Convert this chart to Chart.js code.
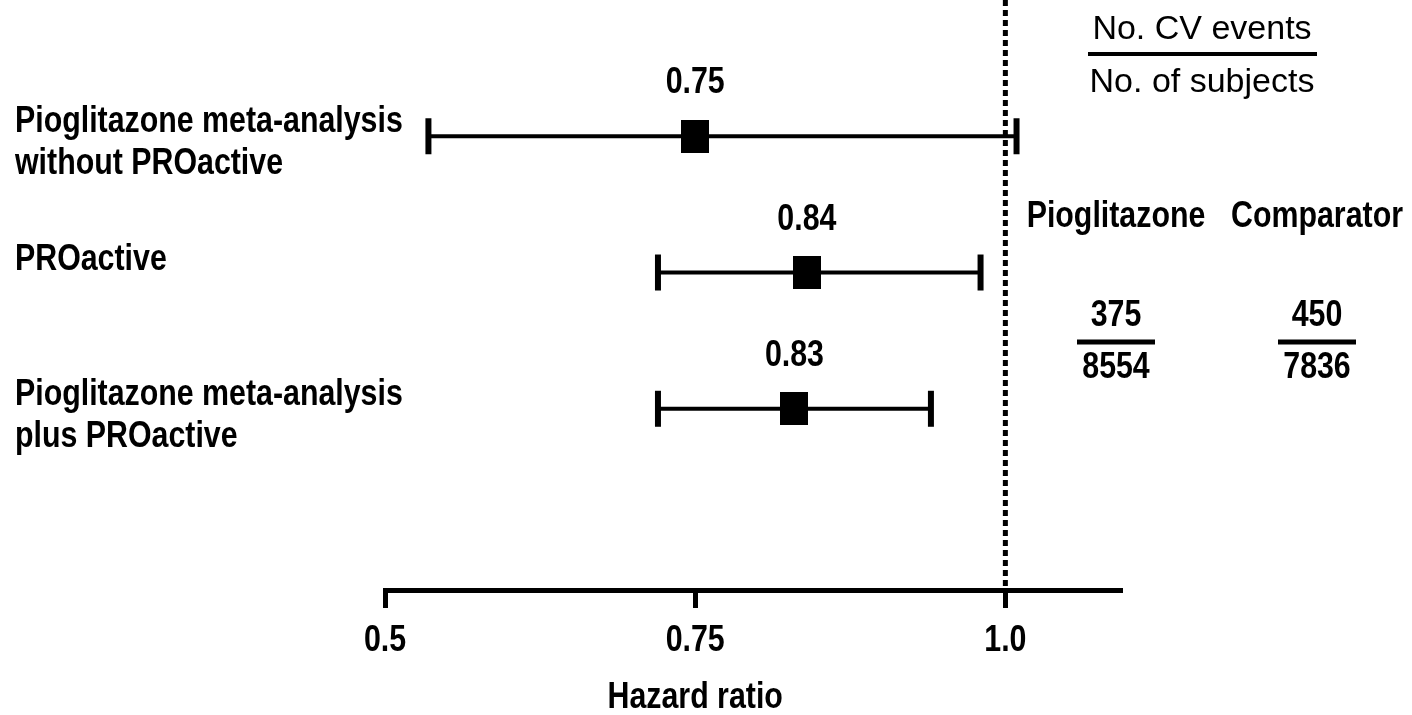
<!DOCTYPE html>
<html>
<head>
<meta charset="utf-8">
<title>Hazard ratio – pioglitazone</title>
<script src="https://cdn.jsdelivr.net/npm/chart.js@4.4.1/dist/chart.umd.min.js"></script>
<style>
  html, body { margin: 0; padding: 0; background: #fff; }
  canvas { display: block; }
</style>
</head>
<body>
<canvas id="forest" width="1412" height="715"></canvas>
<script>
// study rows, top to bottom
const studies = [
    ['Pioglitazone meta-analysis', 'without PROactive'],
    ['PROactive'],
    ['Pioglitazone meta-analysis', 'plus PROactive']
];
const hazardRatio = [0.75, 0.84, 0.83];
const ciLow = [0.535, 0.72, 0.72];
const ciHigh = [1.009, 0.98, 0.94];

const xTicks = [0.5, 0.75, 1.0];
const xTickLabels = ['0.5', '0.75', '1.0'];

// events / subjects per arm
const arms = ['Pioglitazone', 'Comparator'];
const cvEvents = [375, 450];
const subjects = [8554, 7836];

const boldFont = 'bold 37px "Liberation Sans", Arial, sans-serif';
const plainFont = '34px "Liberation Sans", Arial, sans-serif';
const squeeze = 0.82; // narrow look for the bold labels

// filled box used as the point estimate marker
const box = document.createElement('canvas');
box.width = 28;
box.height = 33;
const bctx = box.getContext('2d');
bctx.fillStyle = '#000';
bctx.fillRect(0, 0, 28, 33);

const rowNums = studies.map((s, i) => i + 1);

const datasets = [];
datasets.push({
    label: 'HR',
    data: hazardRatio.map((v, i) => ({ x: v, y: rowNums[i] })),
    pointStyle: box,
    pointRadius: 16,
    showLine: false
});
studies.forEach((s, i) => {
    datasets.push({
        label: 'CI ' + (i + 1),
        data: [{ x: ciLow[i], y: rowNums[i] }, { x: ciHigh[i], y: rowNums[i] }],
        showLine: true,
        borderColor: '#000',
        borderWidth: 4,
        pointStyle: 'line',
        pointRotation: 90,
        pointRadius: 18,
        pointBorderWidth: 6,
        pointBorderColor: '#000'
    });
});
// line of no effect
datasets.push({
    label: 'ref',
    data: [{ x: 1.0, y: 0 }, { x: 1.0, y: 4.33 }],
    showLine: true,
    borderColor: '#000',
    borderWidth: 5,
    borderDash: [6, 4],
    pointRadius: 0
});

function narrowText(ctx, text, x, y, align) {
    ctx.save();
    ctx.translate(x, y);
    ctx.scale(squeeze, 1);
    ctx.textAlign = align;
    ctx.fillText(text, 0, 0);
    ctx.restore();
}

const textPlugin = {
    id: 'forestText',
    afterDraw(chart) {
        const ctx = chart.ctx;
        const xs = chart.scales.x;
        const ys = chart.scales.y;
        ctx.save();
        ctx.fillStyle = '#000';
        ctx.strokeStyle = '#000';
        ctx.textBaseline = 'middle';
        ctx.font = boldFont;

        // tick labels under the axis
        xs.ticks.forEach((t, i) => {
            narrowText(ctx, xTickLabels[i], xs.getPixelForValue(t.value), 641, 'center');
        });

        // estimate values above the boxes
        hazardRatio.forEach((v, i) => {
            narrowText(ctx, v.toFixed(2), xs.getPixelForValue(v), ys.getPixelForValue(rowNums[i]) - 53, 'center');
        });

        // study names on the left
        studies.forEach((lines, i) => {
            const cy = ys.getPixelForValue(rowNums[i]) + (lines.length > 1 ? 7 : -13);
            const top = cy - (lines.length - 1) * 21;
            lines.forEach((t, k) => narrowText(ctx, t, 15, top + k * 42, 'left'));
        });

        // axis title
        narrowText(ctx, 'Hazard ratio', xs.getPixelForValue(0.75), 698, 'center');

        // per-arm counts
        const colX = [1116, 1317];
        arms.forEach((a, i) => {
            narrowText(ctx, a, colX[i], 217, 'center');
            narrowText(ctx, String(cvEvents[i]), colX[i], 316, 'center');
            narrowText(ctx, String(subjects[i]), colX[i], 368, 'center');
            ctx.lineWidth = 5;
            ctx.beginPath();
            ctx.moveTo(colX[i] - 39, 342);
            ctx.lineTo(colX[i] + 39, 342);
            ctx.stroke();
        });

        // key at top right
        ctx.font = plainFont;
        ctx.textAlign = 'center';
        ctx.fillText('No. CV events', 1202, 30);
        ctx.fillText('No. of subjects', 1202, 83);
        ctx.lineWidth = 4;
        ctx.beginPath();
        ctx.moveTo(1088, 54);
        ctx.lineTo(1317, 54);
        ctx.stroke();
        ctx.restore();
    }
};

new Chart(document.getElementById('forest'), {
    type: 'scatter',
    data: { datasets: datasets },
    options: {
        responsive: false,
        animation: false,
        layout: { autoPadding: false, padding: { left: 385, right: 290, top: 0, bottom: 0 } },
        plugins: {
            legend: { display: false },
            tooltip: { enabled: false }
        },
        scales: {
            x: {
                type: 'linear',
                min: 0.5,
                max: 1.094,
                afterBuildTicks: s => { s.ticks = xTicks.map(v => ({ value: v })); },
                afterFit: s => { s.height = 125; },
                ticks: { display: false },
                grid: {
                    drawOnChartArea: false,
                    drawTicks: true,
                    tickLength: 18,
                    tickWidth: 5,
                    tickColor: '#000'
                },
                border: { display: true, width: 5, color: '#000' }
            },
            y: {
                type: 'linear',
                min: 0,
                max: 4.33,
                reverse: true,
                display: false
            }
        }
    },
    plugins: [textPlugin]
});
</script>
</body>
</html>
